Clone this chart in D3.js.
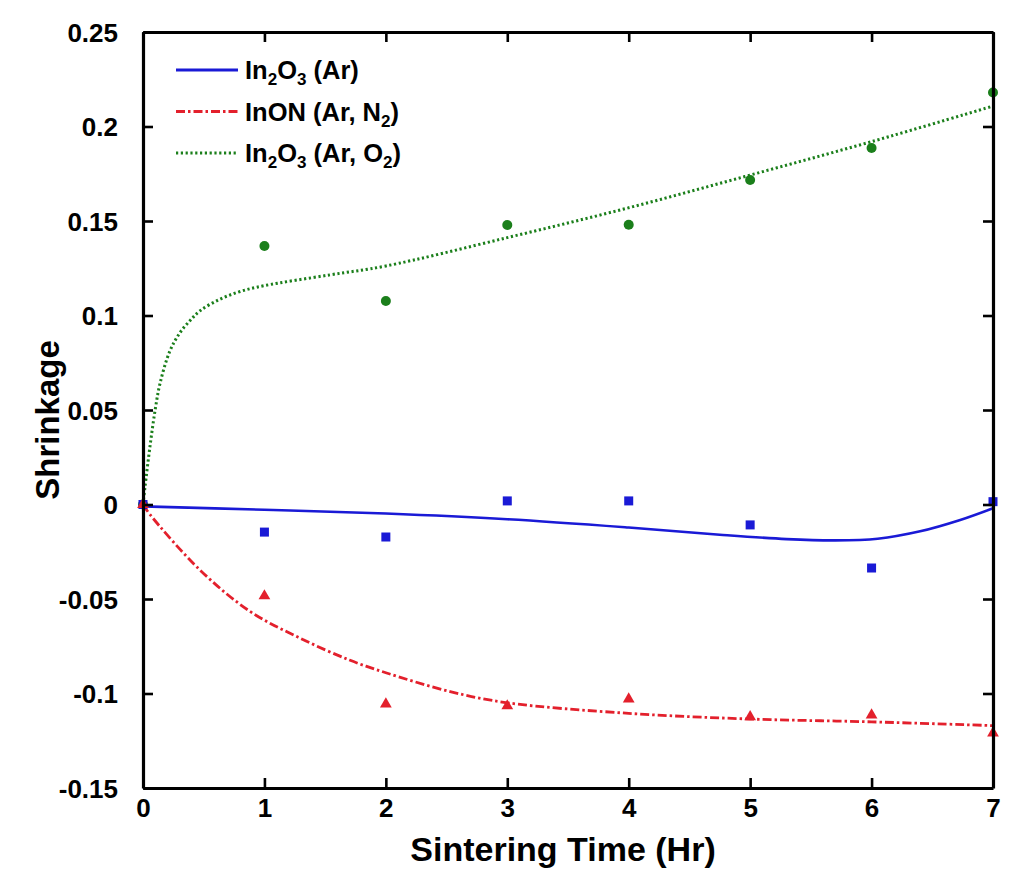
<!DOCTYPE html>
<html>
<head>
<meta charset="utf-8">
<script src="https://cdn.jsdelivr.net/npm/d3@7"></script>
<style>
  body { margin: 0; background: #fff; }
  text { font-family: "Liberation Sans", Arial, sans-serif; font-weight: bold; }
</style>
</head>
<body>
<div id="chart"></div>
<script>
// measured points (hours vs shrinkage)
const hours = [0, 1, 2, 3, 4, 5, 6, 7];
const arShrink = [0, -0.0146, -0.0172, 0.0019, 0.0019, -0.0108, -0.0336, 0.0015];
const n2Shrink = [0, -0.0484, -0.1056, -0.1066, -0.103, -0.1123, -0.1114, -0.1209];
const o2Shrink = [0, 0.1368, 0.1077, 0.1479, 0.148, 0.1717, 0.1886, 0.218];

// fitted curves
const arFitT = [0, 1, 2, 3, 4, 4.75, 5.3, 5.7, 6.05, 6.4, 6.73, 7];
const arFitY = [-0.001, -0.0028, -0.0048, -0.0078, -0.0122, -0.016, -0.0183, -0.019, -0.0181, -0.0142, -0.0082, -0.002];

const n2FitT = [0, 0.06, 0.47, 0.88, 1.29, 1.7, 2, 2.53, 3, 4, 5, 6, 7];
const n2FitY = [0, -0.0055, -0.0347, -0.0565, -0.0706, -0.0823, -0.089, -0.099, -0.1049, -0.1105, -0.1135, -0.115, -0.117];

const o2FitT = [0, 0.016, 0.058, 0.1, 0.14, 0.22, 0.3, 0.39, 0.47, 0.63, 0.8, 1, 1.54, 2, 3, 4, 5, 6, 7];
const o2FitY = [0, 0.009, 0.031, 0.05, 0.064, 0.081, 0.0905, 0.0975, 0.1025, 0.1085, 0.1127, 0.1158, 0.1215, 0.1262, 0.1412, 0.157, 0.1743, 0.192, 0.2108];

// ticks
const xTicks = [0, 1, 2, 3, 4, 5, 6, 7];
const xTickLabels = ["0", "1", "2", "3", "4", "5", "6", "7"];
const yTicks = [0.25, 0.2, 0.15, 0.1, 0.05, 0, -0.05, -0.1, -0.15];
const yTickLabels = ["0.25", "0.2", "0.15", "0.1", "0.05", "0", "-0.05", "-0.1", "-0.15"];

//set canvas and margins
let svgWidth = 1024;
let svgHeight = 881;
let margin = { top: 32, right: 31, bottom: 93, left: 143 };
let width = svgWidth - margin.left - margin.right;
let height = svgHeight - margin.top - margin.bottom;

let svg = d3.select("#chart")
    .append("svg")
    .attr("width", svgWidth)
    .attr("height", svgHeight);

let chartGroup = svg.append("g")
    .attr("transform", `translate(${margin.left}, ${margin.top})`);

let x = d3.scaleLinear().domain([0, 7]).range([0, width]);
let y = d3.scaleLinear().domain([-0.15, 0.25]).range([height, 0]);

const blue = "#1a1ad6", red = "#e3202c", green = "#1b7f1b";

// curves
let line = d3.line()
    .x(d => x(d[0]))
    .y(d => y(d[1]))
    .curve(d3.curveCatmullRom.alpha(0.5));

chartGroup.append("path")
    .datum(o2FitT.map((t, i) => [t, o2FitY[i]]))
    .attr("d", line)
    .attr("fill", "none")
    .attr("stroke", green)
    .attr("stroke-width", 3)
    .attr("stroke-dasharray", "2.2,2.6");

chartGroup.append("path")
    .datum(n2FitT.map((t, i) => [t, n2FitY[i]]))
    .attr("d", line)
    .attr("fill", "none")
    .attr("stroke", red)
    .attr("stroke-width", 2.8)
    .attr("stroke-dasharray", "9,3,2.5,3");

chartGroup.append("path")
    .datum(arFitT.map((t, i) => [t, arFitY[i]]))
    .attr("d", line)
    .attr("fill", "none")
    .attr("stroke", blue)
    .attr("stroke-width", 2.6);

// markers
chartGroup.selectAll(".o2pt")
    .data(hours)
    .join("circle")
    .attr("class", "o2pt")
    .attr("cx", (d, i) => x(d))
    .attr("cy", (d, i) => y(o2Shrink[i]))
    .attr("r", 5)
    .attr("fill", green);

chartGroup.selectAll(".arpt")
    .data(hours)
    .join("rect")
    .attr("class", "arpt")
    .attr("x", (d, i) => x(d) - 4.5)
    .attr("y", (d, i) => y(arShrink[i]) - 4.5)
    .attr("width", 9)
    .attr("height", 9)
    .attr("fill", blue);

let tri = d3.symbol().type(d3.symbolTriangle).size(60);
chartGroup.selectAll(".n2pt")
    .data(hours)
    .join("path")
    .attr("class", "n2pt")
    .attr("d", tri)
    .attr("transform", (d, i) => `translate(${x(d)}, ${y(n2Shrink[i])})`)
    .attr("fill", red);

// axes, ticks inward on all four sides
let fmtX = d => xTickLabels[xTicks.indexOf(d)];
let fmtY = d => yTickLabels[yTicks.indexOf(d)];

let bottomAxis = chartGroup.append("g")
    .attr("transform", `translate(0, ${height})`)
    .call(d3.axisBottom(x).tickValues(xTicks).tickFormat(fmtX).tickSizeInner(-10).tickSizeOuter(0).tickPadding(11));
let topAxis = chartGroup.append("g")
    .call(d3.axisTop(x).tickValues(xTicks).tickFormat("").tickSizeInner(-10).tickSizeOuter(0));
let leftAxis = chartGroup.append("g")
    .call(d3.axisLeft(y).tickValues(yTicks).tickFormat(fmtY).tickSizeInner(-10).tickSizeOuter(0).tickPadding(25));
let rightAxis = chartGroup.append("g")
    .attr("transform", `translate(${width}, 0)`)
    .call(d3.axisRight(y).tickValues(yTicks).tickFormat("").tickSizeInner(-10).tickSizeOuter(0));

[bottomAxis, topAxis, leftAxis, rightAxis].forEach(a => {
    a.select(".domain").attr("stroke", "#000").attr("stroke-width", 3.2);
    a.selectAll(".tick line").attr("stroke", "#000").attr("stroke-width", 2.6);
    a.selectAll(".tick text")
        .attr("fill", "#000")
        .attr("font-size", 26)
        .attr("font-family", "'Liberation Sans', Arial, sans-serif")
        .attr("font-weight", "bold");
});
leftAxis.selectAll(".tick text").attr("dy", "0.36em");
bottomAxis.selectAll(".tick text").attr("dy", "0.71em");

// axis titles
chartGroup.append("text")
    .attr("x", width / 2 - 5)
    .attr("y", height + 73)
    .attr("text-anchor", "middle")
    .attr("font-size", 34)
    .text("Sintering Time (Hr)");

chartGroup.append("text")
    .attr("transform", "rotate(-90)")
    .attr("x", -388)
    .attr("y", -margin.left + 59)
    .attr("text-anchor", "middle")
    .attr("font-size", 33)
    .text("Shrinkage");

// legend
const legendItems = [
    { color: blue, dash: null, parts: [["In", 0], ["2", 1], ["O", 0], ["3", 1], [" (Ar)", 0]] },
    { color: red, dash: "9,3,2.5,3", parts: [["InON (Ar, N", 0], ["2", 1], [")", 0]] },
    { color: green, dash: "2.2,2.6", parts: [["In", 0], ["2", 1], ["O", 0], ["3", 1], [" (Ar, O", 0], ["2", 1], [")", 0]] }
];

let legend = chartGroup.append("g").attr("transform", "translate(33, 38)");
legendItems.forEach((item, i) => {
    let row = legend.append("g").attr("transform", `translate(0, ${i * 41.5})`);
    row.append("line")
        .attr("x1", 0).attr("x2", 62)
        .attr("y1", 0).attr("y2", 0)
        .attr("stroke", item.color)
        .attr("stroke-width", 2.8)
        .attr("stroke-dasharray", item.dash);
    let t = row.append("text")
        .attr("x", 69)
        .attr("y", 9)
        .attr("font-size", 25.5);
    let down = false;
    item.parts.forEach(p => {
        let sp = t.append("tspan").text(p[0]);
        if (p[1] && !down) { sp.attr("dy", 6).attr("font-size", 17); down = true; }
        else if (p[1]) { sp.attr("font-size", 17); }
        else if (down) { sp.attr("dy", -6); down = false; }
    });
});
</script>
</body>
</html>
